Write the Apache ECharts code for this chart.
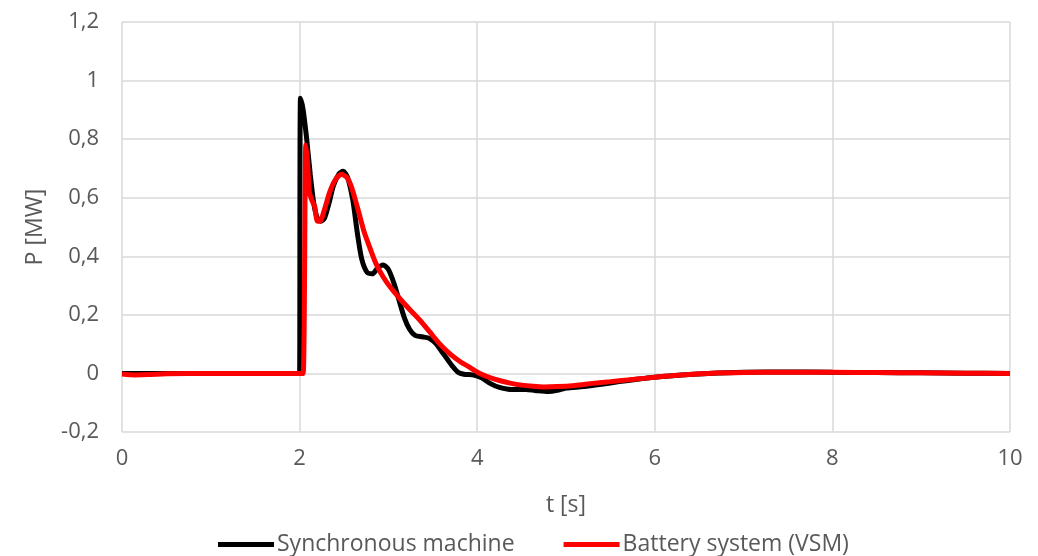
<!DOCTYPE html>
<html><head><meta charset="utf-8">
<script src="https://cdn.jsdelivr.net/npm/echarts@6/dist/echarts.min.js"></script>
<style>html,body{margin:0;padding:0;background:#fff}#c{width:1038px;height:556px}</style>
</head><body><div id="c"></div>
<script>
const seriesNames = ['Synchronous machine', 'Battery system (VSM)'];
const yTicks = [-0.2, 0, 0.2, 0.4, 0.6, 0.8, 1.0, 1.2];
const xTicks = [0, 2, 4, 6, 8, 10];
const syncMachine = [[0,0],[0.5,0],[1,0],[1.5,0],[1.99,0],[2.0,0.0],[2.01,0.94],[2.04,0.9],[2.08,0.8],[2.12,0.68],[2.16,0.58],[2.2,0.53],[2.24,0.52],[2.28,0.53],[2.33,0.58],[2.38,0.64],[2.44,0.68],[2.49,0.69],[2.54,0.67],[2.6,0.59],[2.65,0.48],[2.7,0.39],[2.76,0.345],[2.82,0.34],[2.88,0.36],[2.94,0.37],[3.0,0.355],[3.06,0.31],[3.12,0.25],[3.18,0.19],[3.24,0.15],[3.3,0.13],[3.38,0.125],[3.46,0.12],[3.54,0.10],[3.6,0.075],[3.66,0.05],[3.72,0.025],[3.78,0.005],[3.85,-0.003],[3.95,-0.005],[4.05,-0.015],[4.15,-0.035],[4.25,-0.048],[4.35,-0.054],[4.45,-0.055],[4.55,-0.055],[4.65,-0.058],[4.8,-0.062],[4.9,-0.058],[5.0,-0.05],[5.2,-0.045],[5.4,-0.037],[5.6,-0.028],[5.8,-0.02],[6.0,-0.013],[6.3,-0.005],[6.6,0.0],[7.0,0.004],[7.5,0.005],[8,0.004],[8.5,0.003],[9,0.002],[9.5,0.001],[10,0]];
const batteryVSM = [[0,-0.002],[0.15,-0.005],[0.3,-0.004],[0.5,-0.001],[1,0],[1.5,0],[2.0,0],[2.04,0],[2.07,0.78],[2.09,0.72],[2.11,0.62],[2.14,0.59],[2.17,0.57],[2.2,0.52],[2.23,0.52],[2.28,0.56],[2.34,0.62],[2.4,0.66],[2.47,0.68],[2.53,0.67],[2.58,0.64],[2.63,0.59],[2.68,0.535],[2.73,0.48],[2.79,0.43],[2.86,0.375],[2.94,0.33],[3.02,0.295],[3.13,0.255],[3.25,0.215],[3.36,0.18],[3.47,0.14],[3.58,0.1],[3.7,0.065],[3.81,0.04],[3.92,0.02],[4.03,0.0],[4.15,-0.015],[4.26,-0.025],[4.37,-0.033],[4.5,-0.04],[4.63,-0.044],[4.75,-0.046],[4.9,-0.045],[5.1,-0.041],[5.3,-0.034],[5.5,-0.028],[5.7,-0.022],[5.9,-0.016],[6.1,-0.01],[6.3,-0.005],[6.6,0],[7,0.003],[7.5,0.004],[8,0.004],[8.5,0.003],[9,0.002],[9.5,0.001],[10,0]];

const FONT = '"Open Sans", sans-serif';
const chart = echarts.init(document.getElementById('c'), null, {renderer: 'canvas'});
chart.setOption({
  animation: false,
  backgroundColor: '#fff',
  grid: {left: 122, right: 28, top: 22, bottom: 124, containLabel: false},
  legend: {
    top: 528, left: 213, itemWidth: 56, itemHeight: 5, itemGap: 49, icon: 'rect',
    textStyle: {fontFamily: FONT, fontSize: 23, color: '#595959', padding: [0, 0, 0, -2]},
    data: seriesNames
  },
  xAxis: {
    type: 'value', min: xTicks[0], max: xTicks[xTicks.length - 1], interval: 2,
    name: 't [s]', nameLocation: 'middle', nameGap: 62,
    nameTextStyle: {fontFamily: FONT, fontSize: 23, color: '#595959'},
    axisLine: {show: false}, axisTick: {show: false},
    axisLabel: {fontFamily: FONT, fontSize: 22, color: '#595959', margin: 16},
    splitLine: {show: true, lineStyle: {color: '#d9d9d9', width: 1.5}}
  },
  yAxis: {
    type: 'value', min: yTicks[0], max: yTicks[yTicks.length - 1], interval: 0.2,
    name: 'P [MW]', nameLocation: 'middle', nameGap: 75,
    nameTextStyle: {fontFamily: FONT, fontSize: 23, color: '#595959'},
    axisLine: {show: false}, axisTick: {show: false},
    axisLabel: {fontFamily: FONT, fontSize: 22, color: '#595959', margin: 23,
      formatter: v => String(+v.toFixed(1)).replace('.', ',')},
    splitLine: {show: true, lineStyle: {color: '#d9d9d9', width: 1.5}}
  },
  series: [
    {name: seriesNames[0], type: 'line', data: syncMachine, showSymbol: false, smooth: 0.25,
     lineStyle: {color: '#000000', width: 5}, itemStyle: {color: '#000000'}, z: 2},
    {name: seriesNames[1], type: 'line', data: batteryVSM, showSymbol: false, smooth: 0.25,
     lineStyle: {color: '#ff0000', width: 5}, itemStyle: {color: '#ff0000'}, z: 3}
  ]
});
</script></body></html>
